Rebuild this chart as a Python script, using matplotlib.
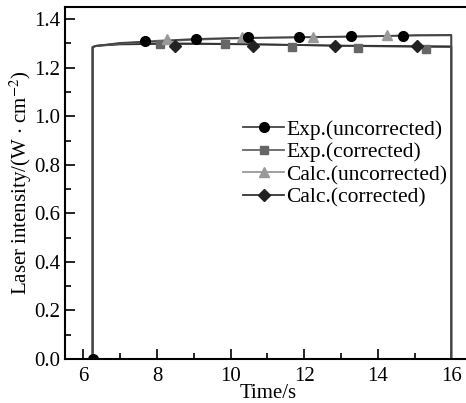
import numpy as np
import matplotlib.pyplot as plt
from matplotlib.lines import Line2D
from matplotlib.ticker import MultipleLocator

plt.rcParams['font.family'] = ['Liberation Serif', 'DejaVu Serif']
plt.rcParams['mathtext.fontset'] = 'stix'

# traces (time in s, intensity in W/cm^2)
trace_t = [6.25, 6.25, 6.35, 7.0, 8.0, 9.0, 10.0, 11.0, 12.0, 13.0, 14.0, 15.0, 16.0, 16.0]
exp_unc_y = [0.0, 1.285, 1.29, 1.302, 1.31, 1.318, 1.322, 1.324, 1.326, 1.328, 1.33, 1.334, 1.335, 0.0]
exp_cor_y = [0.0, 1.285, 1.29, 1.298, 1.30, 1.30, 1.298, 1.296, 1.293, 1.29, 1.288, 1.286, 1.285, 0.0]
calc_unc_y = [0.0, 1.285, 1.29, 1.30, 1.308, 1.315, 1.32, 1.323, 1.325, 1.327, 1.33, 1.332, 1.333, 0.0]
calc_cor_y = [0.0, 1.285, 1.29, 1.296, 1.298, 1.298, 1.297, 1.295, 1.293, 1.291, 1.29, 1.289, 1.288, 0.0]

# marker positions
exp_unc_mx = [6.25, 7.68, 9.07, 10.48, 11.87, 13.28, 14.7]
exp_unc_my = [0.0, 1.31, 1.32, 1.328, 1.328, 1.33, 1.332]
exp_cor_mx = [8.09, 9.86, 11.68, 13.47, 15.3]
exp_cor_my = [1.298, 1.296, 1.285, 1.282, 1.278]
calc_unc_mx = [8.28, 10.3, 12.25, 14.26]
calc_unc_my = [1.318, 1.325, 1.326, 1.336]
calc_cor_mx = [8.5, 10.6, 12.85, 15.08]
calc_cor_my = [1.29, 1.29, 1.29, 1.29]

labels = ['Exp.(uncorrected)', 'Exp.(corrected)', 'Calc.(uncorrected)', 'Calc.(corrected)']

fig = plt.figure(figsize=(4.66, 4.03), dpi=100)
ax = fig.add_axes([0.1395, 0.1092, 0.87, 0.8734])

ax.plot(trace_t, exp_cor_y, color='#555555', lw=1.3)
ax.plot(trace_t, calc_cor_y, color='#333333', lw=1.3)
ax.plot(trace_t, calc_unc_y, color='#777777', lw=1.3)
ax.plot(trace_t, exp_unc_y, color='#444444', lw=1.3)

ax.plot(exp_cor_mx, exp_cor_my, 's', color='#666666', ms=6)
ax.plot(calc_unc_mx, calc_unc_my, '^', color='#999999', ms=7)
ax.plot(calc_cor_mx, calc_cor_my, 'D', color='#222222', ms=6)
ax.plot(exp_unc_mx, exp_unc_my, 'o', color='black', ms=7)

handles = [
    Line2D([], [], color='#444444', marker='o', mfc='black', mec='black', ms=7, lw=1.3),
    Line2D([], [], color='#666666', marker='s', mfc='#666666', mec='#666666', ms=6, lw=1.3),
    Line2D([], [], color='#999999', marker='^', mfc='#999999', mec='#999999', ms=7, lw=1.3),
    Line2D([], [], color='#333333', marker='D', mfc='#222222', mec='#222222', ms=6, lw=1.3),
]
ax.legend(handles, labels, loc='upper left', bbox_to_anchor=(0.44, 0.68), frameon=False,
          fontsize=15.5, handlelength=1.9, handletextpad=0.1, labelspacing=0.12,
          borderpad=0, borderaxespad=0)

ax.set_xlim(5.5, 16.52)
ax.set_ylim(0, 1.45)
ax.xaxis.set_major_locator(MultipleLocator(2))
ax.xaxis.set_minor_locator(MultipleLocator(1))
ax.yaxis.set_major_locator(MultipleLocator(0.2))
ax.yaxis.set_minor_locator(MultipleLocator(0.1))
ax.yaxis.set_major_formatter(plt.FormatStrFormatter('%.1f'))
ax.tick_params(which='both', direction='in', width=1.2, labelsize=15)
ax.tick_params(which='major', length=7)
ax.tick_params(which='minor', length=4)
ax.tick_params(axis='x', pad=6)
for s in ax.spines.values():
    s.set_linewidth(1.5)
ax.spines['right'].set_visible(False)

ax.set_xlabel('Time/s', fontsize=15, labelpad=-2)
ax.set_ylabel('Laser intensity/(W $\\cdot$ cm$^{-2}$)', fontsize=15, labelpad=0)

fig.savefig('out.png', dpi=100)
